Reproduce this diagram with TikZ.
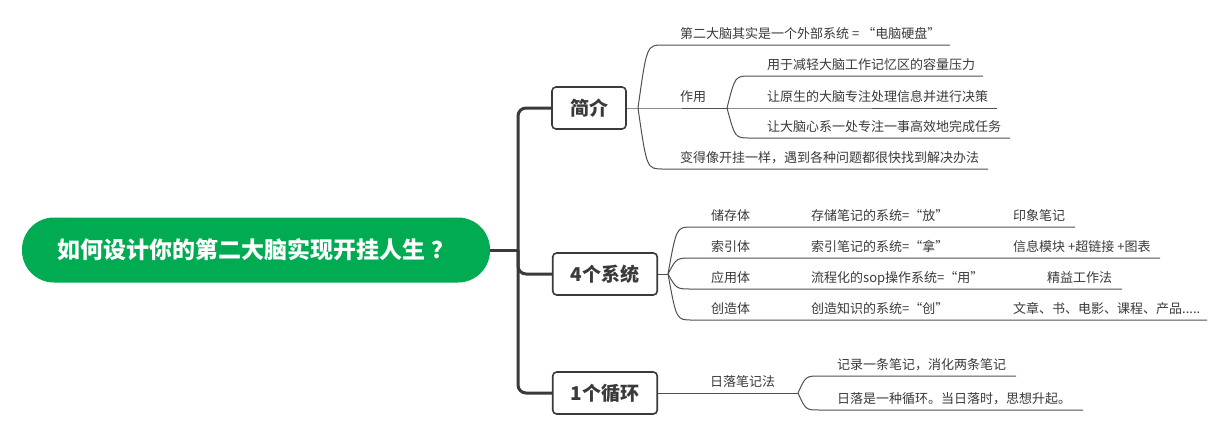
\documentclass[tikz,border=0pt]{standalone}
\usepackage{fontspec}
\setmainfont{Noto Sans CJK SC}
\usetikzlibrary{positioning}

\definecolor{rootgreen}{RGB}{0,171,82}
\definecolor{inkgray}{RGB}{58,58,58}
\definecolor{linegray}{RGB}{80,80,80}

\tikzset{
  rootnode/.style={fill=rootgreen, rounded corners=32pt, text=white,
    minimum width=468pt, minimum height=65pt,
    font=\fontsize{23}{26}\selectfont\bfseries},
  topicbox/.style={draw=inkgray, line width=1.6pt, rounded corners=4pt, fill=white,
    minimum height=42pt, inner xsep=18pt, text=inkgray,
    font=\fontsize{19}{22}\selectfont\bfseries},
  leaf/.style={anchor=base west, inner sep=0pt, text=inkgray,
    font=\fontsize{13}{15}\selectfont},
  trunk/.style={draw=inkgray, line width=3pt, rounded corners=8pt},
  twig/.style={draw=linegray, line width=1pt}
}

% fan, fan x, start x, y, end x
\newcommand{\limb}[5]{\draw[twig] (#1) .. controls ({#2+0.35*(#3-#2)},#4) .. (#3,#4) -- (#5,#4);}

\begin{document}
\begin{tikzpicture}[x=1pt,y=-1pt]
\useasboundingbox[fill=white] (0,0) rectangle (1225,437);

\node[rootnode] (root) at (256,250) {如何设计你的第二大脑实现开挂人生\hspace{6pt}？};
\node[topicbox] (intro) at (589,108) {简介};
\node[topicbox] (sys) at (605,274) {4个系统};
\node[topicbox] (loop) at (605,393) {1个循环};

\coordinate (hub) at (518,250);
\draw[trunk] (root.east) -- (hub);
\draw[trunk] (hub) |- (intro.west);
\draw[trunk] (hub) |- (sys.west);
\draw[trunk] (hub) |- (loop.west);

% 简介
\coordinate (jf) at (638,108);
\coordinate (zf) at (727,108);
\draw[twig] (intro.east) -- (jf) -- (zf);
\limb{jf}{638}{663}{45}{950}
\limb{jf}{638}{663}{169}{988}
\node[leaf] (brain) at (680,38) {第二大脑其实是一个外部系统 = “电脑硬盘”};
\node[leaf] (use) at (680,101) {作用};
\node[leaf] (hack) at (680,162) {变得像开挂一样，遇到各种问题都很快找到解决办法};
\limb{zf}{727}{750}{76}{983}
\limb{zf}{727}{750}{108}{997}
\limb{zf}{727}{750}{138}{1010}
\node[leaf] (use1) at (767,69) {用于减轻大脑工作记忆区的容量压力};
\node[leaf] (use2) at (767,101) {让原生的大脑专注处理信息并进行决策};
\node[leaf] (use3) at (767,131) {让大脑心系一处专注一事高效地完成任务};

% 4个系统
\coordinate (sf) at (668,274);
\draw[twig] (sys.east) -- (sf);
\limb{sf}{668}{692}{227}{1075}
\limb{sf}{668}{692}{258}{1160}
\limb{sf}{668}{692}{289}{1122}
\limb{sf}{668}{692}{320}{1207}
\node[leaf] (store) at (711,220) {储存体};
\node[leaf] (index) at (711,251) {索引体};
\node[leaf] (apply) at (711,282) {应用体};
\node[leaf] (create) at (711,313) {创造体};
\node[leaf] (store2) at (811,220) {存储笔记的系统=“放”};
\node[leaf] (index2) at (811,251) {索引笔记的系统=“拿”};
\node[leaf] (apply2) at (811,282) {流程化的sop操作系统=“用”};
\node[leaf] (create2) at (811,313) {创造知识的系统=“创”};
\node[leaf] (store3) at (1013,220) {印象笔记};
\node[leaf] (index3) at (1013,251) {信息模块\hspace{3pt}+超链接\hspace{3pt}+图表};
\node[leaf] (apply3) at (1047,282) {精益工作法};
\node[leaf] (create3) at (1013,313) {文章、书、电影、课程、产品.....};

% 1个循环
\coordinate (lf) at (798,393);
\draw[twig] (loop.east) -- (lf);
\node[leaf] (sunset) at (710,386) {日落笔记法};
\limb{lf}{798}{820}{376}{1016}
\limb{lf}{798}{820}{410}{1083}
\node[leaf] (note1) at (837,369) {记录一条笔记，消化两条笔记};
\node[leaf] (note2) at (837,403) {日落是一种循环。当日落时，思想升起。};
\end{tikzpicture}
\end{document}
